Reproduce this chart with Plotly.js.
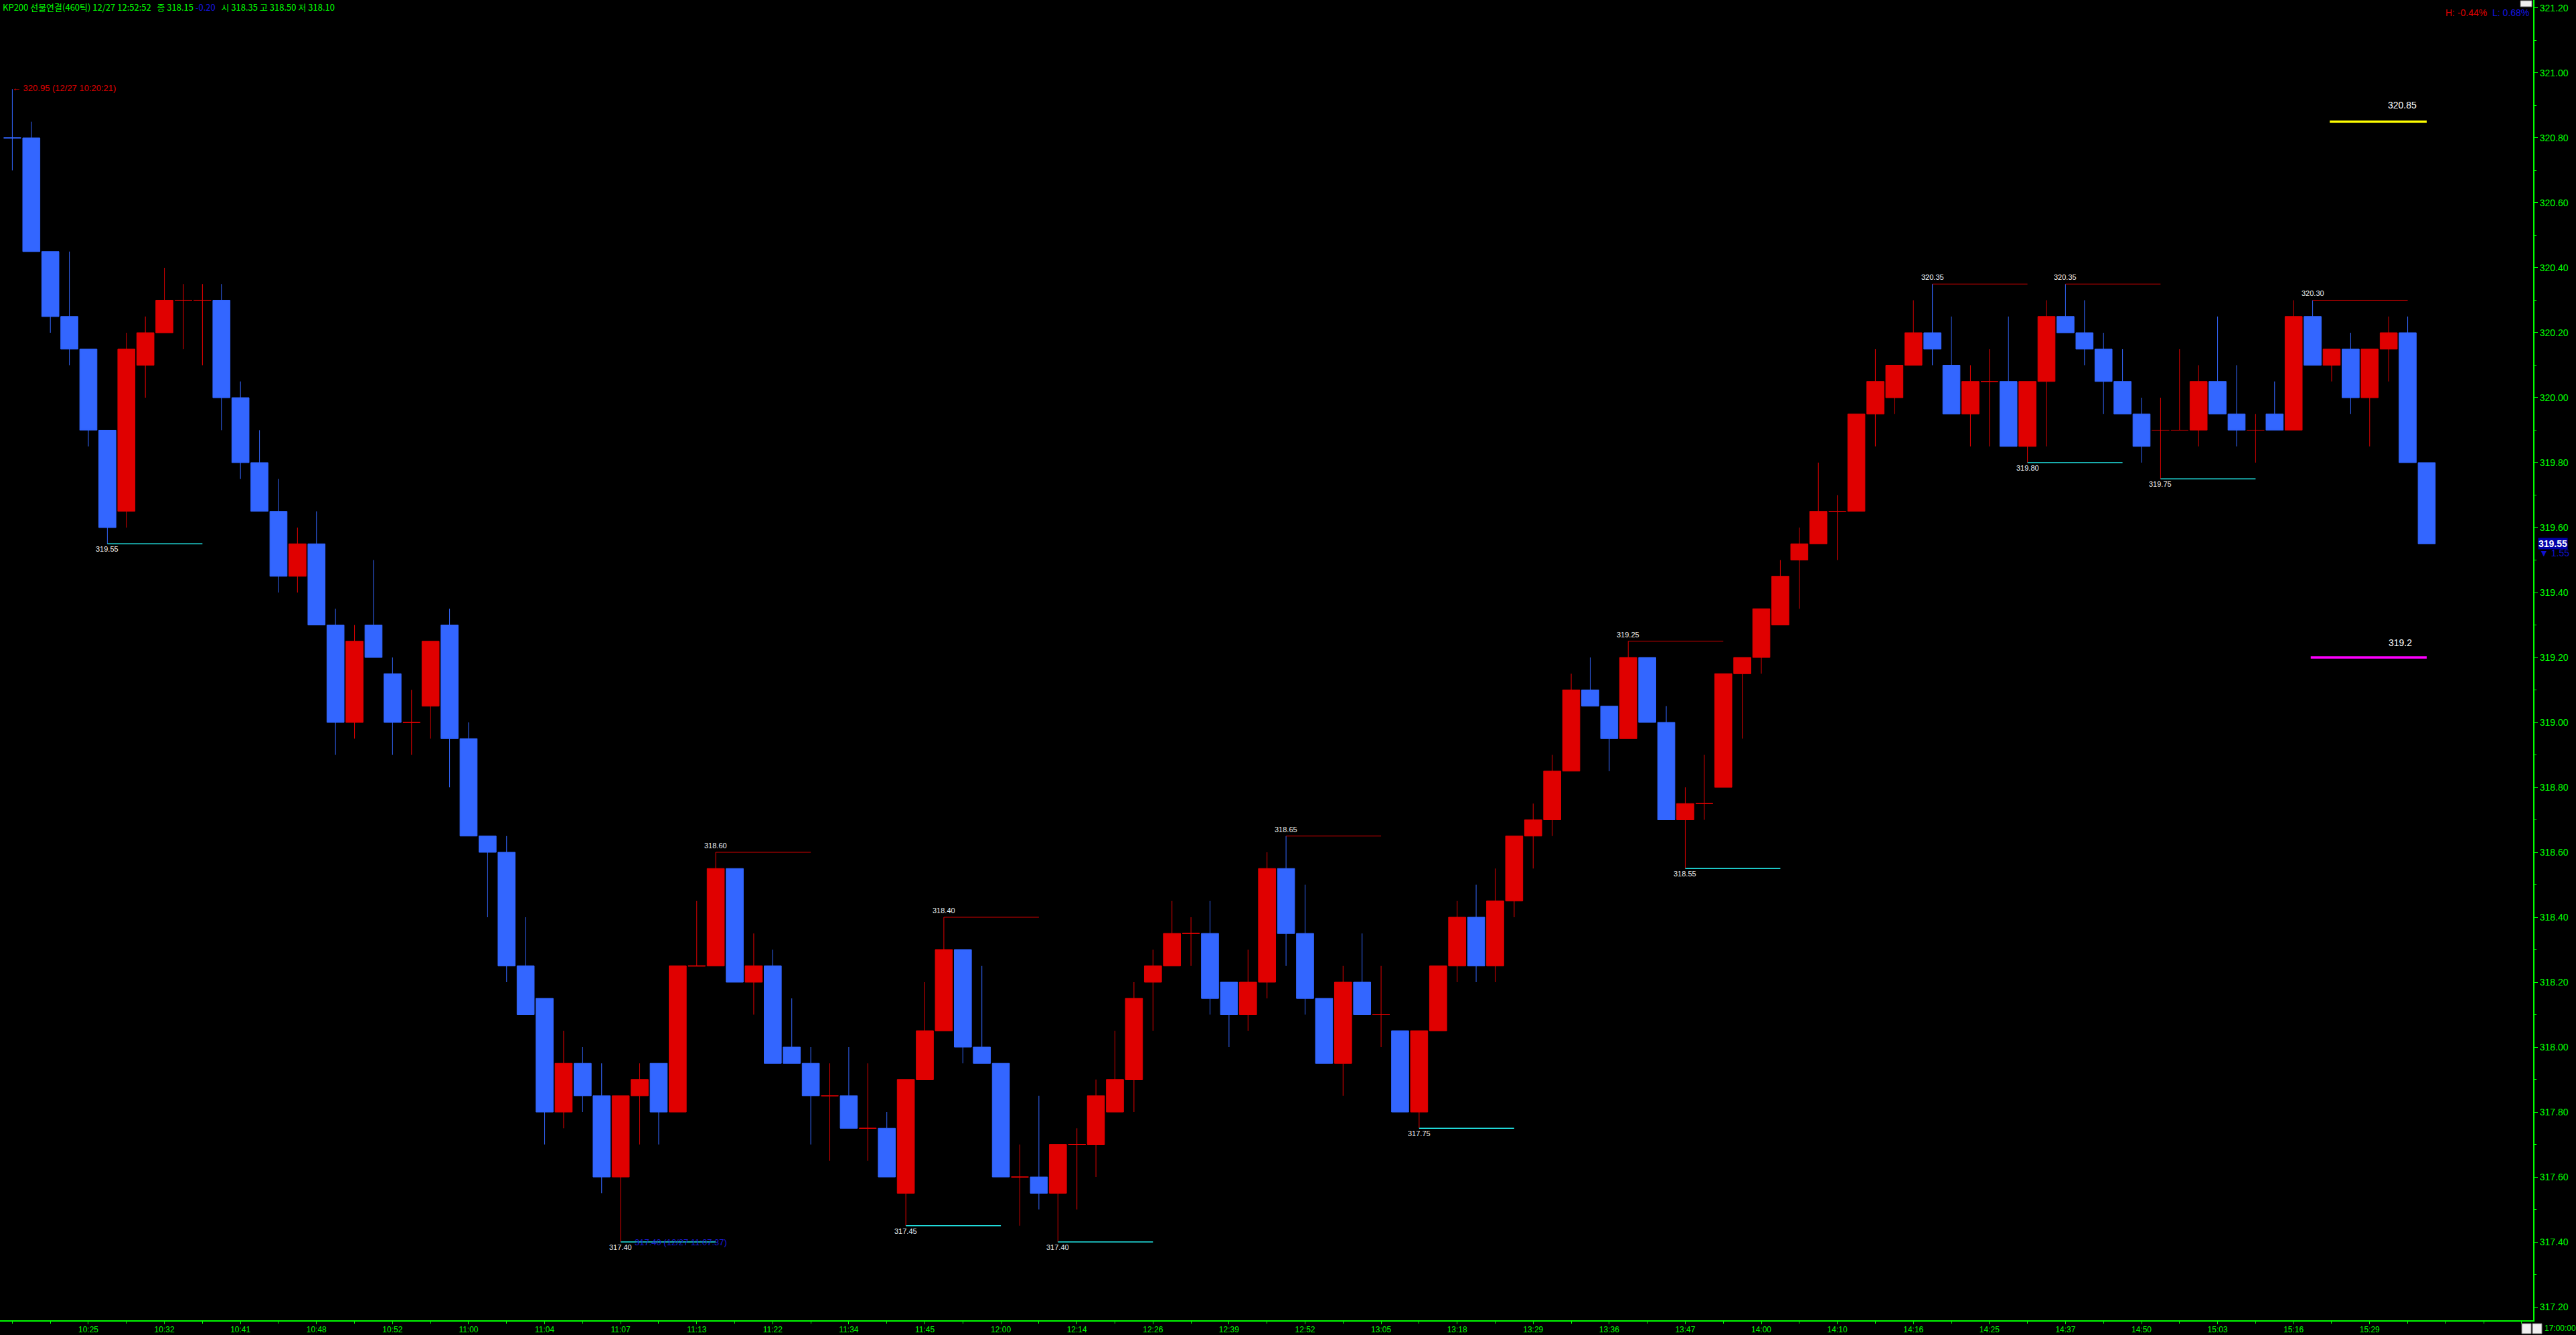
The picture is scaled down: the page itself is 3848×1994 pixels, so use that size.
<!DOCTYPE html>
<html><head><meta charset="utf-8">
<script src="https://cdn.plot.ly/plotly-3.0.1.min.js"></script>
<style>html,body{margin:0;padding:0;background:#000;overflow:hidden}#chart{width:3848px;height:1994px}</style>
</head><body><div id="chart"></div>
<script>
// ---- data (KP200 선물연결 460틱 candles) ----
const open = [320.80,320.80,320.45,320.25,320.15,319.90,319.65,320.10,320.20,320.30,
320.30,320.30,320.00,319.80,319.65,319.45,319.55,319.30,319.00,319.30,
319.15,319.00,319.05,319.30,318.95,318.65,318.60,318.25,318.15,317.80,
317.95,317.85,317.60,317.85,317.95,317.80,318.25,318.25,318.55,318.20,
318.25,318.00,317.95,317.85,317.85,317.75,317.75,317.55,317.90,318.05,
318.30,318.00,317.95,317.60,317.60,317.55,317.70,317.70,317.80,317.90,
318.20,318.25,318.35,318.35,318.20,318.10,318.20,318.55,318.35,318.15,
317.95,318.20,318.10,318.05,317.80,318.05,318.25,318.40,318.25,318.45,
318.65,318.70,318.85,319.10,319.05,318.95,319.20,319.00,318.70,318.75,
318.80,319.15,319.20,319.30,319.50,319.55,319.65,319.65,319.95,320.00,
320.10,320.20,320.10,319.95,320.05,320.05,319.85,320.05,320.25,320.20,
320.15,320.05,319.95,319.90,319.90,319.90,320.05,319.95,319.90,319.95,
319.90,320.25,320.10,320.15,320.00,320.15,320.20,319.80];
const high = [320.95,320.85,320.45,320.45,320.15,319.90,320.20,320.25,320.40,320.35,
320.35,320.35,320.05,319.90,319.75,319.60,319.65,319.35,319.30,319.50,
319.20,319.10,319.25,319.35,319.00,318.65,318.65,318.40,318.15,318.05,
318.00,317.95,317.85,317.95,317.95,318.25,318.45,318.60,318.55,318.35,
318.30,318.15,318.00,317.95,318.00,317.95,317.80,317.90,318.20,318.40,
318.30,318.25,317.95,317.70,317.85,317.70,317.75,317.90,318.05,318.20,
318.30,318.45,318.40,318.45,318.20,318.30,318.60,318.65,318.50,318.15,
318.25,318.35,318.25,318.05,318.05,318.25,318.45,318.50,318.55,318.65,
318.75,318.90,319.15,319.20,319.05,319.25,319.20,319.05,318.80,318.90,
319.15,319.20,319.35,319.50,319.60,319.80,319.70,319.95,320.15,320.10,
320.30,320.35,320.25,320.10,320.15,320.25,320.05,320.30,320.35,320.30,
320.20,320.15,320.00,320.00,320.15,320.10,320.25,320.10,319.95,320.05,
320.30,320.30,320.15,320.20,320.15,320.25,320.25,319.80];
const low = [320.70,320.45,320.20,320.10,319.85,319.55,319.60,320.00,320.20,320.15,
320.10,319.90,319.75,319.65,319.40,319.40,319.30,318.90,318.95,319.20,
318.90,318.90,318.95,318.80,318.65,318.40,318.20,318.10,317.70,317.75,
317.80,317.55,317.40,317.70,317.70,317.80,318.25,318.25,318.20,318.10,
317.95,317.95,317.70,317.65,317.75,317.65,317.60,317.45,317.90,318.05,
317.95,317.95,317.60,317.45,317.50,317.40,317.50,317.60,317.80,317.80,
318.05,318.25,318.25,318.10,318.00,318.05,318.15,318.25,318.10,317.95,
317.85,318.10,318.00,317.80,317.75,318.05,318.20,318.20,318.20,318.40,
318.55,318.65,318.85,319.05,318.85,318.95,319.00,318.70,318.55,318.70,
318.80,318.95,319.15,319.30,319.35,319.55,319.50,319.65,319.85,319.95,
320.10,320.10,319.95,319.85,319.85,319.85,319.80,319.85,320.20,320.10,
319.95,319.95,319.80,319.75,319.90,319.85,319.95,319.85,319.80,319.90,
319.90,320.10,320.05,319.95,319.85,320.05,319.80,319.55];
const close = [320.80,320.45,320.25,320.15,319.90,319.60,320.15,320.20,320.30,320.30,
320.30,320.00,319.80,319.65,319.45,319.55,319.30,319.00,319.25,319.20,
319.00,319.00,319.25,318.95,318.65,318.60,318.25,318.10,317.80,317.95,
317.85,317.60,317.85,317.90,317.80,318.25,318.25,318.55,318.20,318.25,
317.95,317.95,317.85,317.85,317.75,317.75,317.60,317.90,318.05,318.30,
318.00,317.95,317.60,317.60,317.55,317.70,317.70,317.85,317.90,318.15,
318.25,318.35,318.35,318.15,318.10,318.20,318.55,318.35,318.15,317.95,
318.20,318.10,318.10,317.80,318.05,318.25,318.40,318.25,318.45,318.65,
318.70,318.85,319.10,319.05,318.95,319.20,319.00,318.70,318.75,318.75,
319.15,319.20,319.35,319.45,319.55,319.65,319.65,319.95,320.05,320.10,
320.20,320.15,319.95,320.05,320.05,319.85,320.05,320.25,320.20,320.15,
320.05,319.95,319.85,319.90,319.90,320.05,319.95,319.90,319.90,319.90,
320.25,320.10,320.15,320.00,320.15,320.20,319.80,319.55];

const tickIdx = [4,8,12,16,20,24,28,32,36,40,44,48,52,56,60,64,68,72,76,80,84,88,92,96,100,104,108,112,116,120,124];
const tickLabels = ['10:25','10:32','10:41','10:48','10:52','11:00','11:04','11:07','11:13','11:22','11:34',
  '11:45','12:00','12:14','12:26','12:39','12:52','13:05','13:18','13:29','13:36','13:47',
  '14:00','14:10','14:16','14:25','14:37','14:50','15:03','15:16','15:29'];

const highMarks = [37,49,67,85,101,108,121];
const lowMarks = [5,32,47,55,74,88,106,113];
const dayHighIdx = 0, dayHighTime = '12/27 10:20:21';
const dayLowIdx = 32, dayLowTime = '12/27 11:07:37';
const targetHigh = 320.85;
const targetLow = 319.2;
const lastChange = '1.55';
const headerText = 'KP200 선물연결(460틱) 12/27 12:52:52';
const headerQuote = {close:'318.15', chg:'-0.20', open:'318.35', high:'318.50', low:'318.10'};
const hlText = {h:'H: -0.44%', l:'L: 0.68%'};
const endTime = '17:00:00';

// ---- styles ----
const RED = '#e00000', BLUE = '#3366ff', GREEN = '#00ff00';
const W = 3784, H = 1972;
const px = x => x / W, py = y => 1 - y / H;

const idx = open.map((_, i) => i);
// up candles (close >= open) red, down blue; first doji drawn blue as in source
const isUp = i => close[i] > open[i] || (close[i] === open[i] && i > 0);
function candle(ids, color) {
  return {
    type: 'candlestick', x: ids,
    open: ids.map(i => open[i]), high: ids.map(i => high[i]),
    low: ids.map(i => low[i]), close: ids.map(i => close[i]),
    increasing: {line: {color: color, width: 1}, fillcolor: color},
    decreasing: {line: {color: color, width: 1}, fillcolor: color},
    whiskerwidth: 0, hoverinfo: 'skip', showlegend: false
  };
}
const data = [candle(idx.filter(isUp), RED), candle(idx.filter(i => !isUp(i)), BLUE)];

const shapes = [];
const annotations = [];
const lblFont = {family: 'Liberation Sans, Arial, sans-serif', size: 11, color: '#f0f0f0'};

highMarks.forEach(i => {
  shapes.push({type: 'line', xref: 'x', yref: 'y', x0: i, x1: i + 5, y0: high[i], y1: high[i],
    line: {color: '#d00000', width: 1}});
  annotations.push({xref: 'x', yref: 'y', x: i, y: high[i], text: high[i].toFixed(2), showarrow: false,
    xanchor: 'center', yanchor: 'bottom', yshift: 2, font: lblFont});
});
lowMarks.forEach(i => {
  shapes.push({type: 'line', xref: 'x', yref: 'y', x0: i, x1: i + 5, y0: low[i], y1: low[i],
    line: {color: '#22e6e6', width: 1.5}});
  annotations.push({xref: 'x', yref: 'y', x: i, y: low[i], text: low[i].toFixed(2), showarrow: false,
    xanchor: 'center', yanchor: 'top', yshift: 0, font: lblFont});
});

// day high / low
annotations.push({xref: 'x', yref: 'y', x: dayHighIdx, y: high[dayHighIdx],
  text: '← ' + high[dayHighIdx].toFixed(2) + ' (' + dayHighTime + ')', showarrow: false,
  xanchor: 'left', yanchor: 'middle', yshift: 2, xshift: -2,
  font: {family: 'Liberation Sans, Arial, sans-serif', size: 13, color: RED}});
annotations.push({xref: 'x', yref: 'y', x: dayLowIdx, y: low[dayLowIdx],
  text: low[dayLowIdx].toFixed(2) + ' (' + dayLowTime + ')', showarrow: false,
  xanchor: 'left', yanchor: 'middle', xshift: 19,
  font: {family: 'Liberation Sans, Arial, sans-serif', size: 13, color: '#1a1ad8'}});

// target lines
shapes.push({type: 'line', xref: 'x', yref: 'y', x0: 121.9, x1: 127, y0: targetHigh, y1: targetHigh,
  line: {color: '#ffff00', width: 3.5}});
shapes.push({type: 'line', xref: 'x', yref: 'y', x0: 120.9, x1: 127, y0: targetLow, y1: targetLow,
  line: {color: '#ff00ff', width: 3.5}});
annotations.push({xref: 'x', yref: 'y', x: 125.7, y: targetHigh, text: String(targetHigh), showarrow: false,
  xanchor: 'center', yanchor: 'middle', yshift: 25,
  font: {family: 'Liberation Sans, Arial, sans-serif', size: 14, color: '#ffffff'}});
annotations.push({xref: 'x', yref: 'y', x: 125.6, y: targetLow, text: String(targetLow), showarrow: false,
  xanchor: 'center', yanchor: 'middle', yshift: 22,
  font: {family: 'Liberation Sans, Arial, sans-serif', size: 14, color: '#ffffff'}});

// header
annotations.push({xref: 'paper', yref: 'paper', x: px(3), y: 1, xanchor: 'left', yanchor: 'top',
  showarrow: false, borderpad: 0,
  text: headerText + '   종 ' + headerQuote.close + ' <span style="color:#1515e0">' + headerQuote.chg +
    '</span>   시 ' + headerQuote.open + ' 고 ' + headerQuote.high + ' 저 ' + headerQuote.low,
  font: {family: 'Noto Sans CJK KR, sans-serif', size: 13, color: GREEN}});
annotations.push({xref: 'paper', yref: 'paper', x: px(3780), y: py(19), xanchor: 'right', yanchor: 'middle',
  showarrow: false,
  text: '<span style="color:#e00000">' + hlText.h + '</span>  <span style="color:#1515e0">' + hlText.l + '</span>',
  font: {family: 'Liberation Sans Narrow, Liberation Sans, sans-serif', size: 14, color: RED}});

// last price marker on axis
annotations.push({xref: 'paper', yref: 'y', x: px(3791), y: close[close.length - 1], xanchor: 'left', yanchor: 'middle',
  showarrow: false, text: '<b>' + close[close.length - 1].toFixed(2) + '</b>', bgcolor: '#0000a8', borderpad: 0,
  font: {family: 'Liberation Sans Narrow, Liberation Sans, sans-serif', size: 14, color: '#ffffff'}});
annotations.push({xref: 'paper', yref: 'y', x: px(3791), y: close[close.length - 1], xanchor: 'left', yanchor: 'middle',
  yshift: -14, showarrow: false, text: '▼ ' + lastChange,
  font: {family: 'Liberation Sans Narrow, Liberation Sans, sans-serif', size: 14, color: '#1010d0'}});

// bottom right time + small buttons
annotations.push({xref: 'paper', yref: 'paper', x: px(3799), y: py(1984), xanchor: 'left', yanchor: 'middle',
  showarrow: false, text: endTime,
  font: {family: 'Liberation Sans Narrow, Liberation Sans, sans-serif', size: 12, color: GREEN}});
shapes.push({type: 'rect', xref: 'paper', yref: 'paper', x0: px(3767), x1: px(3781), y0: py(1992), y1: py(1977),
  fillcolor: '#f0f0f0', line: {color: '#808080', width: 1}});
shapes.push({type: 'rect', xref: 'paper', yref: 'paper', x0: px(3783), x1: px(3797), y0: py(1992), y1: py(1977),
  fillcolor: '#f0f0f0', line: {color: '#808080', width: 1}});
shapes.push({type: 'rect', xref: 'paper', yref: 'paper', x0: px(3765), x1: px(3782), y0: py(10), y1: py(1),
  fillcolor: '#f0f0f0', line: {color: '#808080', width: 1}});

const axFont = {family: 'Liberation Sans Narrow, Liberation Sans, sans-serif', size: 14, color: GREEN};
const xFont = {family: 'Liberation Sans Narrow, Liberation Sans, sans-serif', size: 12, color: GREEN};

const layout = {
  width: 3848, height: 1994,
  paper_bgcolor: '#000000', plot_bgcolor: '#000000',
  margin: {l: 0, r: 64, t: 0, b: 22, pad: 0},
  boxmode: 'overlay', boxgap: 0.05, boxgroupgap: 0.05,
  showlegend: false, hovermode: false,
  xaxis: {
    type: 'linear', range: [-0.648, 132.6], rangeslider: {visible: false},
    showgrid: false, zeroline: false, showline: true, linecolor: GREEN, linewidth: 2,
    ticks: 'outside', ticklen: 4, tickwidth: 1, tickcolor: GREEN,
    tickmode: 'array', tickvals: tickIdx, ticktext: tickLabels, tickfont: xFont,
    ticklabelstandoff: -2,
    minor: {tickmode: 'linear', tick0: 0, dtick: 2, ticks: 'outside', ticklen: 3, tickcolor: GREEN, showgrid: false},
    fixedrange: true
  },
  yaxis: {
    side: 'right', range: [317.1588, 321.2247],
    showgrid: false, zeroline: false, showline: true, linecolor: GREEN, linewidth: 2,
    ticks: 'outside', ticklen: 5, tickwidth: 1, tickcolor: GREEN,
    tickmode: 'linear', tick0: 0, dtick: 0.2, tickformat: '.2f', tickfont: axFont,
    minor: {tickmode: 'linear', tick0: 0, dtick: 0.1, ticks: 'outside', ticklen: 3, tickcolor: GREEN, showgrid: false},
    fixedrange: true
  },
  shapes: shapes,
  annotations: annotations
};

Plotly.newPlot('chart', data, layout, {staticPlot: true, displayModeBar: false});
</script>
</body></html>
